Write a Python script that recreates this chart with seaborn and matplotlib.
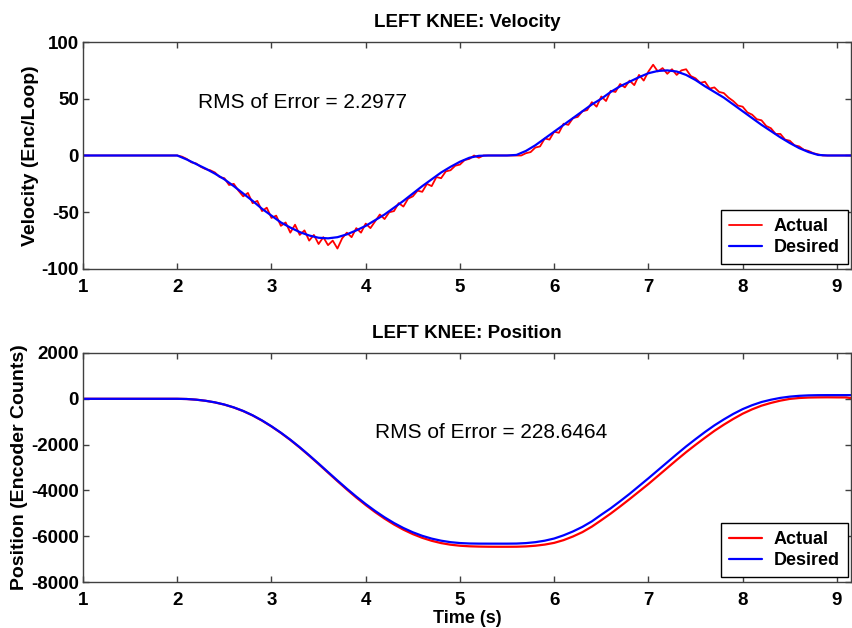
import numpy as np
import pandas as pd
import matplotlib
matplotlib.use("Agg")
import matplotlib.pyplot as plt
import seaborn as sns

# ---- velocity data (Enc/Loop) ----
# desired: sampled every 0.1 s from 2.0 to 8.9, flat zero outside
vel_des_vals = [0, -3.5, -7.5, -11.5, -16, -21, -27, -33.5, -40, -47,
                -53, -59, -63.5, -67.5, -70.5, -72.5, -73, -72, -69.5, -66,
                -62, -57, -52, -46, -40, -33.5, -27, -21, -15, -10,
                -5.5, -2, -0.3, 0, 0, 0, 0.5, 4, 9, 15,
                21, 27, 33, 39, 45, 50, 56, 61, 65, 69,
                72.5, 74.5, 75, 74, 71, 66.5, 61, 56, 51, 45,
                39, 33, 27, 21.5, 16, 11, 6.5, 3, 0.5, 0]
# actual: sampled every 0.05 s from 2.0 to 8.9
vel_act_vals = [0, -1, -3, -6, -7, -10, -12, -13, -15, -19,
                -20, -26, -25, -31, -36, -33, -42, -40, -49, -46,
                -55, -53, -62, -59, -68, -61, -70, -66, -75, -70,
                -78, -72, -79, -75, -82, -73, -68, -72, -64, -68,
                -60, -64, -58, -52, -56, -50, -49, -42, -45, -38,
                -36, -31, -32, -25, -27, -19, -20, -14, -13, -9,
                -8, -4, -3, 0, -2, 0, 0, 0, 0, 0,
                0, 0, 0, 0, 2, 3, 7, 8, 15, 14,
                21, 20, 28, 27, 33, 34, 39, 40, 47, 43,
                52, 48, 57, 56, 63, 60, 66, 62, 71, 66,
                74, 80, 74, 77, 72, 76, 71, 75, 76, 70,
                68, 64, 65, 59, 60, 56, 55, 51, 48, 44,
                43, 38, 36, 32, 31, 26, 24, 19, 19, 14,
                13, 9, 8, 5, 4, 2, 1, 0,
                0]

# ---- position data (encoder counts), every 0.1 s from 2.0 to 9.2 ----
pos_des_vals = [0, -9, -37, -85, -155, -250, -375, -530, -720, -945,
                -1200, -1480, -1785, -2115, -2465, -2828, -3198, -3566, -3926, -4270,
                -4595, -4897, -5174, -5423, -5641, -5828, -5982, -6104, -6195, -6259,
                -6298, -6317, -6323, -6324, -6324, -6324, -6320, -6300, -6260, -6195,
                -6100, -5960, -5790, -5590, -5350, -5060, -4780, -4470, -4150, -3810,
                -3470, -3120, -2770, -2420, -2080, -1760, -1450, -1160, -900, -660,
                -450, -280, -140, -40, 40, 95, 130, 150, 158, 160,
                160, 160, 160]
pos_act_vals = [0, -9, -38, -87, -158, -254, -380, -536, -727, -953,
                -1209, -1490, -1797, -2130, -2482, -2848, -3222, -3595, -3960, -4310,
                -4640, -4948, -5232, -5488, -5714, -5908, -6070, -6200, -6300, -6370,
                -6415, -6440, -6452, -6458, -6460, -6460, -6458, -6445, -6415, -6365,
                -6290, -6170, -6010, -5820, -5580, -5300, -5010, -4700, -4380, -4050,
                -3720, -3370, -3020, -2670, -2330, -2010, -1700, -1400, -1130, -880,
                -650, -460, -300, -180, -80, -5, 35, 55, 62, 65,
                62, 60, 0]

rms_vel = "RMS of Error = 2.2977"
rms_pos = "RMS of Error = 228.6464"

# sample times
t_vel_des = np.r_[1.0, np.round(np.arange(2.0, 8.95, 0.1), 2), 9.2]
t_vel_act = np.r_[1.0, np.round(np.arange(2.0, 8.925, 0.05), 2), 9.2]
t_pos = np.r_[1.0, np.round(np.arange(2.0, 9.25, 0.1), 2)]

vel_des = pd.DataFrame({"t": t_vel_des, "v": [0] + vel_des_vals + [0]})
vel_act = pd.DataFrame({"t": t_vel_act, "v": [0] + vel_act_vals + [0]})
pos_des = pd.DataFrame({"t": t_pos, "p": [0] + pos_des_vals})
pos_act = pd.DataFrame({"t": t_pos, "p": [0] + pos_act_vals})

sns.set_style("ticks")
plt.rcParams["font.family"] = ["Liberation Sans", "DejaVu Sans"]
plt.rcParams["axes.unicode_minus"] = False
plt.rcParams["text.color"] = "black"
plt.rcParams["axes.labelcolor"] = "black"
plt.rcParams["xtick.labelcolor"] = "black"
plt.rcParams["ytick.labelcolor"] = "black"

fig = plt.figure(figsize=(8.53, 6.28), dpi=100)
ax1 = fig.add_axes([0.0973, 0.5717, 0.9004, 0.3614])
ax2 = fig.add_axes([0.0973, 0.0732, 0.9004, 0.3647])

sns.lineplot(x="t", y="v", data=vel_act, color="red", lw=1.3, label="Actual", ax=ax1)
sns.lineplot(x="t", y="v", data=vel_des, color="blue", lw=1.6, label="Desired", ax=ax1)
sns.lineplot(x="t", y="p", data=pos_act, color="red", lw=1.6, label="Actual", ax=ax2)
sns.lineplot(x="t", y="p", data=pos_des, color="blue", lw=1.6, label="Desired", ax=ax2)

ax1.set_ylim(-100, 100)
ax1.set_yticks([-100, -50, 0, 50, 100])
ax2.set_ylim(-8000, 2000)
ax2.set_yticks([-8000, -6000, -4000, -2000, 0, 2000])

for ax in (ax1, ax2):
    ax.set_xlim(1, 9.15)
    ax.set_xticks(range(1, 10))
    ax.tick_params(direction="in", length=4, width=1, top=True, right=True,
                   labelsize=13.5, color="#404040", labelcolor="black")
    ax.tick_params(axis="x", pad=7)
    ax.tick_params(axis="y", pad=3)
    for lab in ax.get_xticklabels() + ax.get_yticklabels():
        lab.set_fontweight("bold")
    for sp in ax.spines.values():
        sp.set_visible(True)
        sp.set_color("#404040")
        sp.set_linewidth(1)
    leg = ax.legend(loc="lower right", bbox_to_anchor=(0.996, 0.022), borderaxespad=0,
                    fancybox=False, framealpha=1, edgecolor="black",
                    prop={"size": 13, "weight": "bold"}, handlelength=1.85,
                    handletextpad=0.65, borderpad=0.45, labelspacing=0.2,
                    labelcolor="black")
    leg.get_frame().set_linewidth(1)

ax1.set_title("LEFT KNEE: Velocity", fontsize=13.5, fontweight="bold", pad=11, color="black")
ax1.set_ylabel("Velocity (Enc/Loop)", fontsize=14, fontweight="bold", labelpad=2)
ax1.set_xlabel("")
ax1.text(2.22, 42, rms_vel, fontsize=15, va="baseline", ha="left", color="black")

ax2.set_title("LEFT KNEE: Position", fontsize=13.5, fontweight="bold", pad=10.5, color="black")
ax2.set_ylabel("Position (Encoder Counts)", fontsize=14, fontweight="bold", labelpad=2)
ax2.set_xlabel("Time (s)", fontsize=13, fontweight="bold", labelpad=1)
ax2.text(4.10, -1710, rms_pos, fontsize=15, va="baseline", ha="left", color="black")

fig.savefig("out.png", dpi=100)
